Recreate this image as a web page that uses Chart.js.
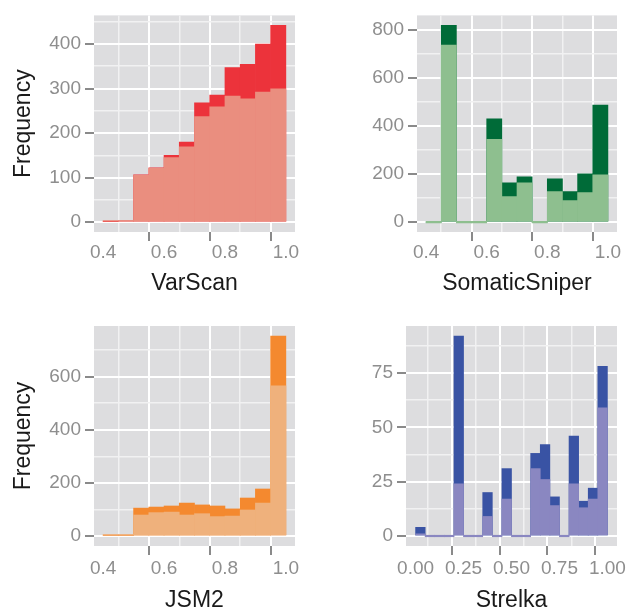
<!DOCTYPE html>
<html>
<head>
<meta charset="utf-8">
<script src="https://cdn.jsdelivr.net/npm/chart.js@4.4.1/dist/chart.umd.min.js"></script>
<style>
  html, body { margin: 0; padding: 0; background: #fff; overflow: hidden; }
  body { width: 629px; height: 609px; position: relative; }
  canvas { position: absolute; }
</style>
</head>
<body>
<canvas id="varscan" width="310" height="305" style="left:0;top:0"></canvas>
<canvas id="sniper" width="315" height="305" style="left:314px;top:0"></canvas>
<canvas id="jsm2" width="310" height="320" style="left:0;top:305px"></canvas>
<canvas id="strelka" width="315" height="320" style="left:314px;top:305px"></canvas>
<script>
// bin centres (bin width 0.05)
const scoreBins = [0.425, 0.475, 0.525, 0.575, 0.625, 0.675, 0.725, 0.775, 0.825, 0.875, 0.925, 0.975];
const strelkaBins = [0.025, 0.075, 0.125, 0.175, 0.225, 0.275, 0.325, 0.375, 0.425, 0.475,
                     0.525, 0.575, 0.625, 0.675, 0.725, 0.775, 0.825, 0.875, 0.925, 0.975];

// all calls (dark) and the subset (light) for each caller
const varscanAll  = [1, 3, 106, 122, 150, 180, 268, 285, 347, 354, 400, 442];
const varscanPart = [1, 2, 105, 121, 145, 169, 237, 259, 283, 277, 292, 299];
const sniperAll   = [0, 819, 0, 0, 430, 164, 188, 0, 180, 127, 201, 487];
const sniperPart  = [0, 737, 0, 0, 344, 106, 164, 0, 127, 90, 123, 197];
const jsm2All     = [2, 2, 105, 109, 113, 124, 117, 113, 102, 143, 177, 753];
const jsm2Part    = [1, 1, 79, 88, 90, 79, 84, 73, 75, 98, 124, 565];
const strelkaAll  = [4, 0, 0, 0, 92, 0, 0, 20, 0, 31, 0, 0, 38, 42, 18, 0, 46, 16, 22, 78];
const strelkaPart = [1, 0, 0, 0, 24, 0, 0, 9, 0, 17, 0, 0, 31, 26, 14, 0, 24, 13, 17, 59];

// tick labels
const scoreTicks = [0.4, 0.6, 0.8, 1.0];
const scoreMinor = [0.5, 0.7, 0.9];
const strelkaTicks = [0, 0.25, 0.5, 0.75, 1];
const strelkaMinor = [0.125, 0.375, 0.625, 0.875];
const varscanY = [0, 100, 200, 300, 400];
const varscanYMinor = [50, 150, 250, 350, 450];
const sniperY = [0, 200, 400, 600, 800];
const sniperYMinor = [100, 300, 500, 700];
const jsm2Y = [0, 200, 400, 600];
const jsm2YMinor = [100, 300, 500, 700];
const strelkaY = [0, 25, 50, 75];
const strelkaYMinor = [12.5, 37.5, 62.5, 87.5];

const FONT = "'Liberation Sans', Arial, Helvetica, sans-serif";

const panelBg = {
    id: 'panelBg',
    beforeDraw(chart) {
        const { ctx, chartArea: a } = chart;
        ctx.save();
        ctx.fillStyle = '#DDDDDF';
        ctx.fillRect(a.left, a.top, a.right - a.left, a.bottom - a.top);
        ctx.restore();
    }
};


function tickList(major, minor) {
    let list = major.map(v => ({ value: v })).concat(minor.map(v => ({ value: v, minor: true })));
    return list.sort((a, b) => a.value - b.value);
}


function axisGrid() {
    return {
        color: ctx => ctx.tick && ctx.tick.minor ? '#F1F1F2' : '#FFFFFF',
        lineWidth: ctx => ctx.tick && ctx.tick.minor ? 1.5 : 2,
        tickColor: ctx => ctx.tick && ctx.tick.minor ? 'rgba(0,0,0,0)' : '#8A8A8A',
        tickWidth: 2,
        tickLength: 9,
        drawTicks: true
    };
}


function makePanel(id, p) {
    const yPad = (p.yAll.reduce((a, b) => Math.max(a, b), 0)) * 0.05;
    const xPad = (p.xRange[1] - p.xRange[0]) * 0.05;
    const xTicks = tickList(p.xTicks, p.xMinor);
    const yTicks = tickList(p.yTicks, p.yMinor);

    new Chart(document.getElementById(id), {
        type: 'bar',
        data: {
            datasets: [
                {
                    data: p.bins.map((b, i) => ({ x: b, y: p.yPart[i] })),
                    backgroundColor: p.light,
                    minBarLength: 1.5
                },
                {
                    data: p.bins.map((b, i) => ({ x: b, y: p.yAll[i] })),
                    backgroundColor: p.dark
                }
            ]
        },
        options: {
            responsive: false,
            animation: false,
            events: [],
            grouped: false,
            barPercentage: 1,
            categoryPercentage: 1,
            borderWidth: 0,
            layout: { padding: { top: p.padTop, right: p.padRight, left: 0, bottom: 0 } },
            plugins: { legend: { display: false }, tooltip: { enabled: false } },
            scales: {
                x: {
                    type: 'linear',
                    offset: false,
                    min: p.xRange[0] - xPad,
                    max: p.xRange[1] + xPad,
                    afterBuildTicks: s => { s.ticks = xTicks; },
                    afterFit: s => { s.height = p.xHeight; },
                    grid: axisGrid(),
                    border: { display: false },
                    ticks: {
                        autoSkip: false,
                        maxRotation: 0,
                        padding: p.xTickPad,
                        color: '#8E8E8E',
                        font: { family: FONT, size: 19 },
                        callback: (v, i, t) => t[i].minor ? '' : Number(v).toFixed(p.xDigits)
                    },
                    title: {
                        display: true,
                        text: p.title,
                        color: '#1A1A1A',
                        font: { family: FONT, size: 23 },
                        padding: { top: 0, bottom: p.titlePad }
                    }
                },
                y: {
                    min: -yPad,
                    max: p.yAll.reduce((a, b) => Math.max(a, b), 0) + yPad,
                    afterBuildTicks: s => { s.ticks = yTicks; },
                    afterFit: s => { s.width = p.yWidth; },
                    grid: axisGrid(),
                    border: { display: false },
                    ticks: {
                        autoSkip: false,
                        padding: 4,
                        color: '#8E8E8E',
                        font: { family: FONT, size: 19 },
                        callback: (v, i, t) => t[i].minor ? '' : String(v)
                    },
                    title: {
                        display: p.yTitle,
                        text: 'Frequency',
                        color: '#1A1A1A',
                        font: { family: FONT, size: 23 },
                        padding: { top: 10, bottom: 0 }
                    }
                }
            }
        },
        plugins: [panelBg]
    });
}


makePanel('varscan', {
    bins: scoreBins, yAll: varscanAll, yPart: varscanPart,
    dark: '#EC333B', light: '#EA8E7F',
    xRange: [0.4, 1.0], xTicks: scoreTicks, xMinor: scoreMinor, xDigits: 1,
    yTicks: varscanY, yMinor: varscanYMinor,
    title: 'VarScan', yTitle: true,
    padTop: 12, padRight: 15, yWidth: 94, xHeight: 73, xTickPad: 0, titlePad: 8
});

makePanel('sniper', {
    bins: scoreBins, yAll: sniperAll, yPart: sniperPart,
    dark: '#006B38', light: '#8EBF8F',
    xRange: [0.4, 1.0], xTicks: scoreTicks, xMinor: scoreMinor, xDigits: 1,
    yTicks: sniperY, yMinor: sniperYMinor,
    title: 'SomaticSniper', yTitle: false,
    padTop: 12, padRight: 12, yWidth: 103, xHeight: 73, xTickPad: 0, titlePad: 8
});

makePanel('jsm2', {
    bins: scoreBins, yAll: jsm2All, yPart: jsm2Part,
    dark: '#F4892F', light: '#EFB17C',
    xRange: [0.4, 1.0], xTicks: scoreTicks, xMinor: scoreMinor, xDigits: 1,
    yTicks: jsm2Y, yMinor: jsm2YMinor,
    title: 'JSM2', yTitle: true,
    padTop: 21, padRight: 15, yWidth: 94, xHeight: 79, xTickPad: 2, titlePad: 11
});

makePanel('strelka', {
    bins: strelkaBins, yAll: strelkaAll, yPart: strelkaPart,
    dark: '#3953A4', light: '#8A87C1',
    xRange: [0, 1], xTicks: strelkaTicks, xMinor: strelkaMinor, xDigits: 2,
    yTicks: strelkaY, yMinor: strelkaYMinor,
    title: 'Strelka', yTitle: false,
    padTop: 21, padRight: 12, yWidth: 92, xHeight: 79, xTickPad: 2, titlePad: 11
});
</script>
</body>
</html>
